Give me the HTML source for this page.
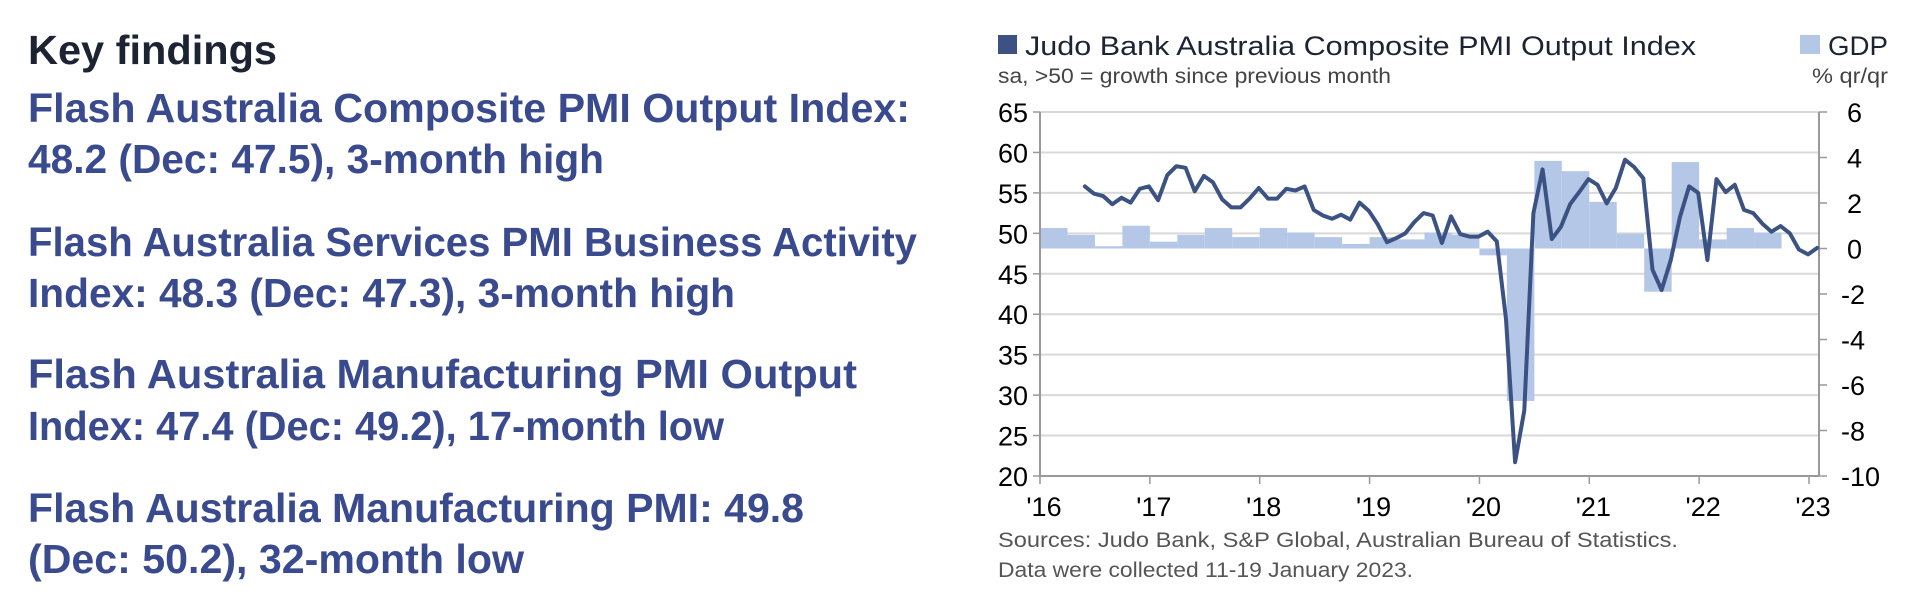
<!DOCTYPE html>
<html><head><meta charset="utf-8"><style>
html,body{margin:0;padding:0;background:#fff;}
svg{display:block;}
</style></head><body>
<svg id="chart" width="1910" height="614" viewBox="0 0 1910 614" xmlns="http://www.w3.org/2000/svg" font-family="'Liberation Sans', sans-serif">
<g font-weight="bold">
<text x="28" y="64" font-size="41" fill="#1c2333" textLength="249" lengthAdjust="spacingAndGlyphs">Key findings</text>
<g fill="#3a4a8e" font-size="41">
<text x="28" y="122" textLength="882" lengthAdjust="spacingAndGlyphs">Flash Australia Composite PMI Output Index:</text>
<text x="28" y="173" textLength="576" lengthAdjust="spacingAndGlyphs">48.2 (Dec: 47.5), 3-month high</text>
<text x="28" y="256" textLength="889" lengthAdjust="spacingAndGlyphs">Flash Australia Services PMI Business Activity</text>
<text x="28" y="307" textLength="707" lengthAdjust="spacingAndGlyphs">Index: 48.3 (Dec: 47.3), 3-month high</text>
<text x="28" y="388" textLength="829" lengthAdjust="spacingAndGlyphs">Flash Australia Manufacturing PMI Output</text>
<text x="28" y="440" textLength="696" lengthAdjust="spacingAndGlyphs">Index: 47.4 (Dec: 49.2), 17-month low</text>
<text x="28" y="522" textLength="776" lengthAdjust="spacingAndGlyphs">Flash Australia Manufacturing PMI: 49.8</text>
<text x="28" y="573" textLength="496" lengthAdjust="spacingAndGlyphs">(Dec: 50.2), 32-month low</text>
</g>
</g>
<g>
<rect x="998" y="35" width="19" height="19" fill="#3b5283"/>
<text x="1025" y="55" font-size="27" fill="#1c2333" textLength="671" lengthAdjust="spacingAndGlyphs">Judo Bank Australia Composite PMI Output Index</text>
<rect x="1800" y="35" width="20" height="19" fill="#b4c7e7"/>
<text x="1828" y="55" font-size="27" fill="#1c2333" textLength="60" lengthAdjust="spacingAndGlyphs">GDP</text>
<text x="998" y="83" font-size="21" fill="#444" textLength="393" lengthAdjust="spacingAndGlyphs">sa, &gt;50 = growth since previous month</text>
<text x="1888" y="83" font-size="21" fill="#444" text-anchor="end" textLength="76" lengthAdjust="spacingAndGlyphs">% qr/qr</text>
</g>
<g id="grid"></g>
<g id="bars"></g>
<g id="axes"></g>
<g id="line"></g>
<text x="998" y="547" font-size="21" fill="#555" textLength="680" lengthAdjust="spacingAndGlyphs">Sources: Judo Bank, S&amp;P Global, Australian Bureau of Statistics.</text>
<text x="998" y="577" font-size="21" fill="#555" textLength="415" lengthAdjust="spacingAndGlyphs">Data were collected 11-19 January 2023.</text>
</svg>
<script>
const leftTicks = [20,25,30,35,40,45,50,55,60,65];
const rightTicks = [-10,-8,-6,-4,-2,0,2,4,6];
const yearLabels = ["'16","'17","'18","'19","'20","'21","'22","'23"];
const pmiStartMonth = 4; // May 2016
const pmiValues = [55.8,54.9,54.6,53.6,54.4,53.8,55.5,55.8,
 54.1,57.2,58.3,58.1,55.2,57.1,56.3,54.2,53.2,53.2,54.3,55.6,
 54.3,54.3,55.5,55.3,55.8,52.9,52.2,51.8,52.3,51.7,53.8,52.8,
 51.1,48.9,49.4,50.0,51.4,52.5,52.2,48.8,52.1,49.9,49.6,49.6,
 50.2,49.0,39.4,21.7,28.1,52.5,57.9,49.3,50.8,53.6,55.1,56.7,
 56.0,53.7,55.6,59.1,58.2,56.8,45.5,43.0,46.7,52.0,55.8,55.0,
 46.7,56.7,55.1,56.0,52.9,52.5,51.2,50.2,50.9,50.0,48.0,47.4,
 48.2];
const gdpValues = [0.9,0.6,0.1,1.0,0.3,0.6,0.9,0.5,0.9,0.7,0.5,0.2,0.5,0.4,0.7,0.6,-0.3,-6.7,3.85,3.4,2.05,0.65,-1.9,3.8,0.4,0.9,0.7];

const NS="http://www.w3.org/2000/svg";
const X0=1040,X1=1819,XT=1809,YT=112,YB=476;
const monthW=(XT-X0)/84;
const xM=m=>X0+m*monthW;
const yL=v=>YB-(v-20)/45*(YB-YT);
const yR=v=>YB-(v+10)/16*(YB-YT);
function mk(tag,attrs,parent,txt){const e=document.createElementNS(NS,tag);for(const k in attrs)e.setAttribute(k,attrs[k]);if(txt!==undefined)e.textContent=txt;parent.appendChild(e);return e;}
const grid=document.getElementById('grid'),bars=document.getElementById('bars'),axes=document.getElementById('axes'),lineG=document.getElementById('line');
leftTicks.forEach(v=>{
 const y=yL(v);
 if(v>20){const g=mk('line',{x1:X0,x2:X1,y1:y,y2:y,stroke:'#d9d9d9','stroke-width':2},grid);
 
 }
 const t=mk('line',{x1:X0-7,x2:X0,y1:y,y2:y,stroke:'#999','stroke-width':1.5},axes);
 
 
 const l=mk('text',{x:1028,y:y+10,'font-size':27,'text-anchor':'end',fill:'#000'},axes,String(v));
 
 
});
rightTicks.forEach(v=>{
 const y=yR(v);
 const t=mk('line',{x1:X1,x2:X1+8,y1:y,y2:y,stroke:'#999','stroke-width':1.5},axes);
 
 
 const l=mk('text',{x:v<0?1841:1847,y:y+10,'font-size':27,fill:'#000'},axes,String(v));
 
 
});
const al=mk('line',{x1:X0,x2:X0,y1:YT,y2:YB,stroke:'#999','stroke-width':2},axes);


const ar=mk('line',{x1:X1,x2:X1,y1:YT,y2:YB,stroke:'#999','stroke-width':2},axes);


const ab=mk('line',{x1:X0,x2:X1,y1:YB,y2:YB,stroke:'#999','stroke-width':2},axes);


yearLabels.forEach((lab,i)=>{
 const x=xM(i*12);
 const t=mk('line',{x1:x,x2:x,y1:YB,y2:YB+8,stroke:'#999','stroke-width':1.5},axes);
 
 
 const l=mk('text',{x:x+4,y:516,'font-size':27,'text-anchor':'middle',fill:'#000'},axes,lab);
 
 
});
const y0=yR(0);
gdpValues.forEach((v,q)=>{
 const x=xM(q*3),w=monthW*3,y=yR(v);
 const r=mk('rect',{x:x,y:Math.min(y,y0),width:w,height:Math.abs(y-y0),fill:'#b4c7e7'},bars);
 
 
});
const pts=pmiValues.map((v,i)=>xM(pmiStartMonth+i+0.9).toFixed(1)+','+yL(v).toFixed(1)).join(' ');
const pl=mk('polyline',{points:pts,fill:'none',stroke:'#3b5283','stroke-width':4,'stroke-linejoin':'round','stroke-linecap':'round'},lineG);


</script>
</body></html>
